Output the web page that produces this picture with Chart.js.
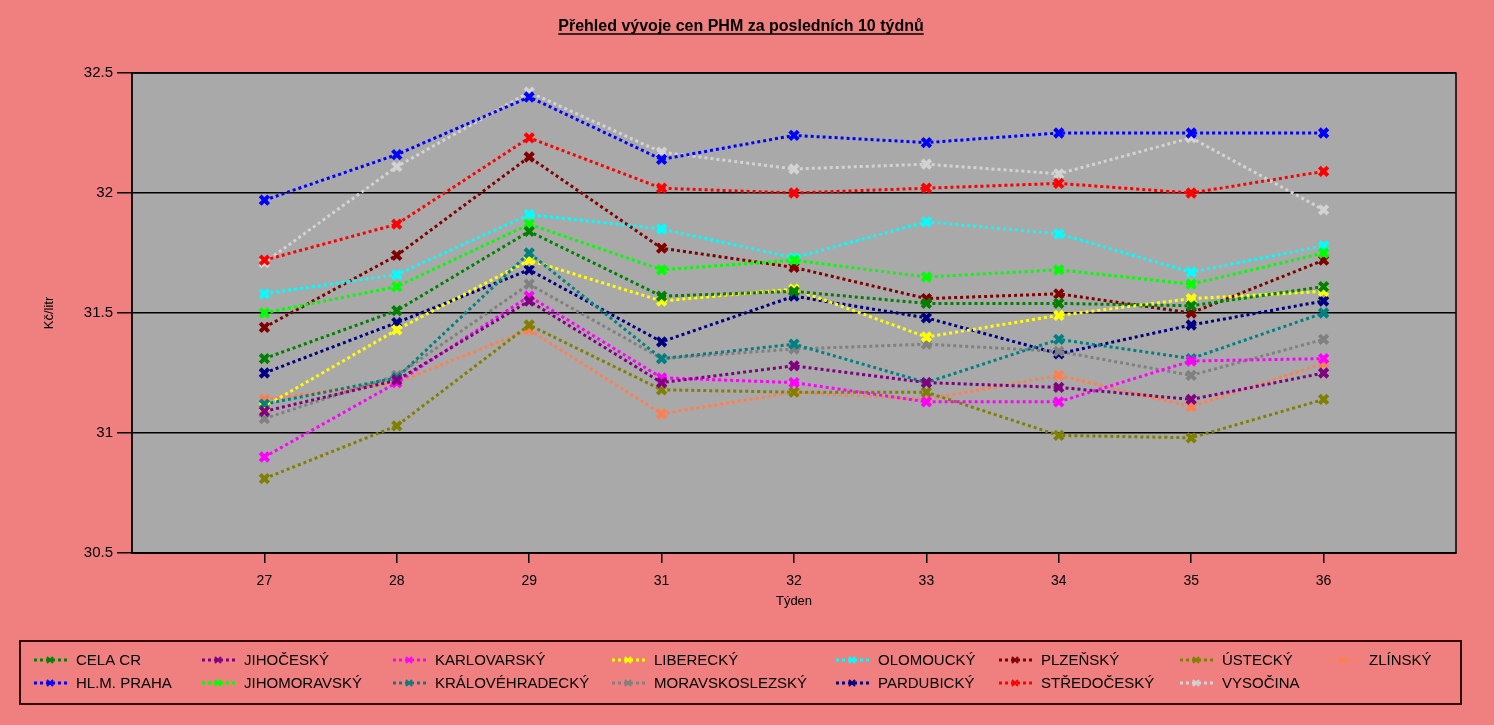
<!DOCTYPE html>
<html>
<head>
<meta charset="utf-8">
<script src="https://cdn.jsdelivr.net/npm/chart.js@4.4.1/dist/chart.umd.min.js"></script>
<style>
  html, body { margin: 0; padding: 0; background: #F08080; }
  #wrap { width: 1494px; height: 725px; position: relative; }
</style>
</head>
<body>
<div id="wrap"><canvas id="phmChart"></canvas></div>
<script>
// Data
const weeks = ['27', '28', '29', '31', '32', '33', '34', '35', '36'];
const yTicks = [30.5, 31, 31.5, 32, 32.5];

const celaCr          = [31.31, 31.51, 31.84, 31.57, 31.59, 31.54, 31.54, 31.53, 31.61];
const hlmPraha        = [31.97, 32.16, 32.40, 32.14, 32.24, 32.21, 32.25, 32.25, 32.25];
const jihocesky       = [31.09, 31.22, 31.55, 31.21, 31.28, 31.21, 31.19, 31.14, 31.25];
const jihomoravsky    = [31.50, 31.61, 31.87, 31.68, 31.72, 31.65, 31.68, 31.62, 31.75];
const karlovarsky     = [30.90, 31.21, 31.57, 31.23, 31.21, 31.13, 31.13, 31.30, 31.31];
const kralovehradecky = [31.12, 31.23, 31.75, 31.31, 31.37, 31.21, 31.39, 31.31, 31.50];
const liberecky       = [31.11, 31.43, 31.72, 31.55, 31.60, 31.40, 31.49, 31.56, 31.59];
const moravskoslezsky = [31.06, 31.24, 31.62, 31.31, 31.35, 31.37, 31.34, 31.24, 31.39];
const olomoucky       = [31.58, 31.66, 31.91, 31.85, 31.73, 31.88, 31.83, 31.67, 31.78];
const pardubicky      = [31.25, 31.46, 31.68, 31.38, 31.57, 31.48, 31.33, 31.45, 31.55];
const plzensky        = [31.44, 31.74, 32.15, 31.77, 31.69, 31.56, 31.58, 31.50, 31.72];
const stredocesky     = [31.72, 31.87, 32.23, 32.02, 32.00, 32.02, 32.04, 32.00, 32.09];
const ustecky         = [30.81, 31.03, 31.45, 31.18, 31.17, 31.17, 30.99, 30.98, 31.14];
const vysocina        = [31.71, 32.11, 32.42, 32.17, 32.10, 32.12, 32.08, 32.23, 31.93];
const zlinsky         = [31.14, 31.21, 31.43, 31.08, 31.17, 31.14, 31.24, 31.11, 31.29];

const seriesNames = ['CELA CR', 'HL.M. PRAHA', 'JIHOČESKÝ', 'JIHOMORAVSKÝ', 'KARLOVARSKÝ',
  'KRÁLOVÉHRADECKÝ', 'LIBERECKÝ', 'MORAVSKOSLEZSKÝ', 'OLOMOUCKÝ', 'PARDUBICKÝ',
  'PLZEŇSKÝ', 'STŘEDOČESKÝ', 'ÚSTECKÝ', 'VYSOČINA', 'ZLÍNSKÝ'];
const seriesValues = [celaCr, hlmPraha, jihocesky, jihomoravsky, karlovarsky,
  kralovehradecky, liberecky, moravskoslezsky, olomoucky, pardubicky,
  plzensky, stredocesky, ustecky, vysocina, zlinsky];
const seriesColors = ['#008000', '#0000FF', '#800080', '#00FF00', '#FF00FF',
  '#008080', '#FFFF00', '#808080', '#00FFFF', '#000080',
  '#800000', '#FF0000', '#808000', '#D3D3D3', '#FF7F50'];

const titleText = 'Přehled vývoje cen PHM za posledních 10 týdnů';
const yTitle = 'Kč/litr';
const xTitle = 'Týden';

const FONT = "'Liberation Sans', Arial, sans-serif";

// pozadí grafu, rámeček, titulek a legenda
const framePlugin = {
  id: 'frame',
  beforeDraw(chart) {
    const { ctx, chartArea: a } = chart;
    ctx.save();
    ctx.fillStyle = '#A9A9A9';
    ctx.fillRect(a.left, a.top, a.right - a.left, a.bottom - a.top);
    ctx.restore();
  },
  beforeDatasetsDraw(chart) {
    const { ctx, chartArea: a } = chart;
    ctx.save();
    ctx.strokeStyle = '#000';
    ctx.lineWidth = 1.5;
    ctx.strokeRect(a.left, a.top, a.right - a.left, a.bottom - a.top);
    ctx.restore();
  },
  afterDraw(chart) {
    const { ctx } = chart;
    ctx.save();

    // titulek
    ctx.font = 'bold 16px ' + FONT;
    ctx.fillStyle = '#000';
    ctx.textAlign = 'center';
    ctx.textBaseline = 'alphabetic';
    const tx = 741, ty = 31;
    ctx.fillText(titleText, tx, ty);
    const tw = ctx.measureText(titleText).width;
    ctx.strokeStyle = '#000';
    ctx.lineWidth = 1.5;
    ctx.beginPath();
    ctx.moveTo(tx - tw / 2, ty + 3);
    ctx.lineTo(tx + tw / 2, ty + 3);
    ctx.stroke();

    // legenda
    ctx.lineWidth = 2;
    ctx.strokeStyle = '#300';
    ctx.strokeRect(20, 641, 1441, 63);
    const colX = [34, 202, 393, 612, 836, 999, 1180, 1327];
    const rowY = [660, 683];
    ctx.font = '15px ' + FONT;
    ctx.textAlign = 'left';
    ctx.textBaseline = 'middle';
    chart.data.datasets.forEach((ds, i) => {
      const x = colX[Math.floor(i / 2)];
      const y = rowY[i % 2];
      ctx.strokeStyle = ds.borderColor;
      ctx.lineWidth = 3;
      ctx.setLineDash([3, 3]);
      ctx.beginPath();
      ctx.moveTo(x, y);
      ctx.lineTo(x + 33, y);
      ctx.stroke();
      ctx.setLineDash([]);
      ctx.lineWidth = 2;
      const mx = x + 16, r = 3;
      ctx.beginPath();
      ctx.moveTo(mx - r, y - r); ctx.lineTo(mx + r, y + r);
      ctx.moveTo(mx - r, y + r); ctx.lineTo(mx + r, y - r);
      ctx.stroke();
      ctx.fillStyle = '#000';
      ctx.fillText(ds.label, x + 42, y + 1);
    });
    ctx.restore();
  }
};

const datasets = seriesNames.map((name, i) => ({
  label: name,
  data: seriesValues[i].map((v, j) => ({ x: j + 1, y: v })),
  borderColor: seriesColors[i],
  backgroundColor: seriesColors[i],
  borderWidth: 3,
  borderDash: [3, 3],
  pointStyle: 'crossRot',
  pointRadius: 6,
  pointBorderWidth: 4,
  pointBorderColor: seriesColors[i],
  tension: 0,
  fill: false
}));

new Chart(document.getElementById('phmChart'), {
  type: 'line',
  data: { datasets },
  options: {
    responsive: true,
    maintainAspectRatio: false,
    animation: false,
    layout: { padding: { left: 0, top: 73, right: 38, bottom: 112 } },
    plugins: {
      legend: { display: false },
      title: { display: false },
      tooltip: { enabled: false }
    },
    scales: {
      x: {
        type: 'linear',
        min: 0,
        max: weeks.length + 1,
        afterBuildTicks(scale) {
          scale.ticks = weeks.map((w, i) => ({ value: i + 1 }));
        },
        afterFit(scale) { scale.height = 60; },
        ticks: {
          autoSkip: false,
          maxRotation: 0,
          padding: 10,
          color: '#000',
          font: { family: FONT, size: 14 },
          callback: (v) => weeks[v - 1]
        },
        grid: {
          drawOnChartArea: false,
          drawTicks: true,
          tickLength: 10,
          color: '#000',
          lineWidth: 1.5
        },
        border: { display: true, color: '#000', width: 1.5 },
        title: {
          display: true,
          text: xTitle,
          color: '#000',
          font: { family: FONT, size: 13 },
          padding: { top: 8 }
        }
      },
      y: {
        min: 30.5,
        max: 32.5,
        afterBuildTicks(scale) {
          scale.ticks = yTicks.map(v => ({ value: v }));
        },
        afterFit(scale) { scale.width = 132; },
        ticks: {
          color: '#000',
          padding: 4,
          font: { family: FONT, size: 15 },
          callback: (v) => String(v)
        },
        grid: {
          color: '#000',
          lineWidth: 1.5,
          tickLength: 15
        },
        border: { display: true, color: '#000', width: 1.5 },
        title: {
          display: true,
          text: yTitle,
          color: '#000',
          font: { family: FONT, size: 13 },
          padding: { top: 42, bottom: 0 }
        }
      }
    }
  },
  plugins: [framePlugin]
});
</script>
</body>
</html>
